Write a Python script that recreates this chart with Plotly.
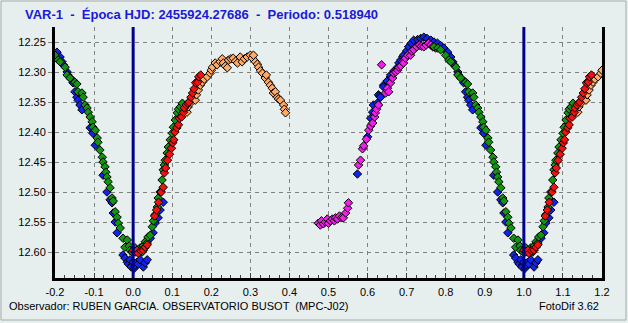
import plotly.graph_objects as go

title_text = "VAR-1  -  Época HJD: 2455924.27686  -  Periodo: 0.518940"
footer_left = "Observador: RUBEN GARCIA. OBSERVATORIO BUSOT  (MPC-J02)"
footer_right = "FotoDif 3.62"

x_ticks = [-0.2, -0.1, 0.0, 0.1, 0.2, 0.3, 0.4, 0.5, 0.6, 0.7, 0.8, 0.9, 1.0, 1.1, 1.2]
y_ticks = [12.25, 12.30, 12.35, 12.40, 12.45, 12.50, 12.55, 12.60]
epoch_lines = [0.0, 1.0]

# phases (0..1) and magnitudes per series
blue_phase = [0.574, 0.600, 0.608, 0.613, 0.615, 0.625, 0.628, 0.631, 0.633, 0.641, 0.641, 0.650, 0.659, 0.659,
              0.668, 0.677, 0.680, 0.685, 0.690, 0.692, 0.700, 0.705, 0.712, 0.718, 0.728, 0.736, 0.744, 0.752,
              0.762, 0.770, 0.779, 0.787, 0.795, 0.805, 0.813, 0.818, 0.821, 0.831, 0.833, 0.844, 0.846, 0.851,
              0.856, 0.859, 0.864, 0.869, 0.890, 0.897, 0.903, 0.923, 0.933, 0.941, 0.946, 0.949, 0.954, 0.959,
              0.974, 0.979, 0.985, 0.988, 0.992, 0.997, 0.995, 0.000, 0.003, 0.005, 0.010, 0.013, 0.018, 0.026,
              0.031, 0.036, 0.044, 0.051, 0.056, 0.064, 0.069, 0.077]
blue_mag = [12.470, 12.408, 12.377, 12.367, 12.355, 12.352, 12.338, 12.340, 12.342, 12.322, 12.325, 12.315, 12.308, 12.305,
            12.298, 12.292, 12.285, 12.280, 12.275, 12.272, 12.265, 12.258, 12.252, 12.247, 12.246, 12.244, 12.242, 12.244,
            12.247, 12.250, 12.252, 12.256, 12.260, 12.267, 12.275, 12.283, 12.288, 12.300, 12.305, 12.313, 12.318, 12.333,
            12.342, 12.347, 12.355, 12.363, 12.393, 12.402, 12.422, 12.472, 12.500, 12.513, 12.518, 12.535, 12.550, 12.568,
            12.605, 12.610, 12.617, 12.620, 12.613, 12.622, 12.625, 12.617, 12.627, 12.622, 12.617, 12.620, 12.613, 12.625,
            12.618, 12.613, 12.577, 12.568, 12.552, 12.543, 12.530, 12.517]

green_phase = [0.770, 0.780, 0.787, 0.800, 0.808, 0.813, 0.826, 0.831, 0.838, 0.851, 0.856, 0.859, 0.869, 0.872,
               0.877, 0.882, 0.885, 0.890, 0.895, 0.897, 0.903, 0.908, 0.910, 0.915, 0.921, 0.923, 0.928, 0.930,
               0.933, 0.936, 0.941, 0.946, 0.949, 0.954, 0.959, 0.962, 0.967, 0.974, 0.979, 0.985, 0.990, 0.992,
               0.998, 0.005, 0.012, 0.018, 0.023, 0.026, 0.031, 0.036, 0.038, 0.044, 0.049, 0.052, 0.056, 0.062,
               0.064, 0.069, 0.074, 0.077, 0.080, 0.082, 0.087, 0.090, 0.095, 0.100, 0.103, 0.108, 0.113, 0.116,
               0.121, 0.126]
green_mag = [12.258, 12.260, 12.263, 12.272, 12.280, 12.283, 12.292, 12.305, 12.310, 12.317, 12.320, 12.333, 12.335, 12.342,
             12.355, 12.360, 12.367, 12.375, 12.383, 12.392, 12.397, 12.410, 12.417, 12.430, 12.442, 12.450, 12.458, 12.467,
             12.475, 12.483, 12.493, 12.510, 12.515, 12.533, 12.542, 12.552, 12.560, 12.577, 12.592, 12.580, 12.590, 12.597,
             12.600, 12.593, 12.597, 12.593, 12.600, 12.590, 12.583, 12.585, 12.575, 12.572, 12.558, 12.548, 12.538, 12.525,
             12.510, 12.500, 12.480, 12.463, 12.455, 12.447, 12.435, 12.425, 12.413, 12.402, 12.392, 12.380, 12.368, 12.362,
             12.358, 12.352]

red_phase = [0.000, 0.005, 0.010, 0.013, 0.020, 0.026, 0.031, 0.036, 0.055, 0.060, 0.065, 0.072, 0.077, 0.080,
             0.083, 0.088, 0.093, 0.098, 0.101, 0.104, 0.107, 0.112, 0.116, 0.118, 0.124, 0.129, 0.131, 0.136,
             0.140, 0.143, 0.148, 0.152, 0.156, 0.160, 0.165, 0.168, 0.173]
red_mag = [12.597, 12.600, 12.597, 12.602, 12.598, 12.597, 12.592, 12.588, 12.540, 12.530, 12.517, 12.500, 12.492, 12.468,
           12.460, 12.447, 12.437, 12.427, 12.418, 12.413, 12.400, 12.393, 12.388, 12.377, 12.375, 12.367, 12.360, 12.355,
           12.352, 12.350, 12.342, 12.335, 12.328, 12.318, 12.317, 12.308, 12.305]

orange_phase = [0.131, 0.138, 0.141, 0.146, 0.150, 0.159, 0.162, 0.167, 0.172, 0.177, 0.182, 0.190, 0.197, 0.200,
                0.203, 0.210, 0.215, 0.223, 0.228, 0.231, 0.236, 0.241, 0.244, 0.250, 0.256, 0.262, 0.267, 0.274,
                0.279, 0.285, 0.292, 0.300, 0.305, 0.308, 0.313, 0.318, 0.321, 0.326, 0.331, 0.338, 0.341, 0.346,
                0.351, 0.356, 0.359, 0.364, 0.369, 0.372, 0.377, 0.385, 0.387, 0.390]
orange_mag = [12.362, 12.367, 12.358, 12.352, 12.345, 12.347, 12.338, 12.330, 12.322, 12.317, 12.312, 12.308, 12.302, 12.297,
              12.292, 12.285, 12.288, 12.283, 12.278, 12.285, 12.290, 12.293, 12.280, 12.278, 12.277, 12.282, 12.285, 12.275,
              12.283, 12.278, 12.275, 12.272, 12.277, 12.272, 12.283, 12.287, 12.292, 12.298, 12.302, 12.310, 12.305, 12.317,
              12.322, 12.327, 12.335, 12.333, 12.342, 12.345, 12.347, 12.355, 12.362, 12.368]

magenta_phase = [0.474, 0.479, 0.482, 0.487, 0.492, 0.497, 0.500, 0.505, 0.510, 0.515, 0.518, 0.523, 0.528, 0.533,
                 0.538, 0.544, 0.549, 0.551, 0.577, 0.582, 0.587, 0.590, 0.597, 0.603, 0.608, 0.613, 0.618, 0.620,
                 0.623, 0.628, 0.636, 0.646, 0.651, 0.654, 0.659, 0.664, 0.667, 0.672, 0.677, 0.680, 0.685, 0.690,
                 0.692, 0.697, 0.703, 0.710, 0.713, 0.718, 0.726, 0.733, 0.738, 0.744, 0.750, 0.756, 0.762, 0.767,
                 0.774]
magenta_mag = [12.552, 12.555, 12.548, 12.553, 12.550, 12.545, 12.552, 12.548, 12.545, 12.548, 12.543, 12.545, 12.540, 12.543,
               12.543, 12.535, 12.527, 12.518, 12.455, 12.447, 12.428, 12.423, 12.412, 12.397, 12.390, 12.385, 12.375, 12.368,
               12.362, 12.355, 12.288, 12.335, 12.327, 12.333, 12.318, 12.310, 12.302, 12.300, 12.297, 12.292, 12.290, 12.283,
               12.285, 12.277, 12.272, 12.272, 12.265, 12.263, 12.258, 12.255, 12.257, 12.258, 12.255, 12.252, 12.255, 12.258,
               12.260]

series = [
    ("blue", blue_phase, blue_mag, "#1024EE"),
    ("magenta", magenta_phase, magenta_mag, "#F020E8"),
    ("orange", orange_phase, orange_mag, "#FFAA66"),
    ("green", green_phase, green_mag, "#129612"),
    ("red", red_phase, red_mag, "#F21010"),
]

XMIN, XMAX = -0.2, 1.2
YTOP, YBOT = 12.225, 12.6433


def wrap(ph, mg):
    xs, ys = [], []
    for p, m in zip(ph, mg):
        for s in (-1, 0, 1):
            q = p + s
            if XMIN <= q <= XMAX:
                xs.append(q)
                ys.append(m)
    return xs, ys


fig = go.Figure()
for name, ph, mg, col in series:
    xs, ys = wrap(ph, mg)
    fig.add_trace(go.Scatter(
        x=xs, y=ys, mode="markers", name=name,
        marker=dict(symbol="diamond", size=6.5, color=col, line=dict(color="black", width=1)),
        showlegend=False, hoverinfo="skip", cliponaxis=True))

for e in epoch_lines:
    fig.add_shape(type="line", xref="x", yref="paper", x0=e, x1=e, y0=0, y1=1,
                  line=dict(color="#000088", width=3), layer="above")

# plot area: x 55..602, y 27..278 in a 628x323 page
L, R, T, B = 55, 26, 27, 45
W, H = 628 - L - R, 323 - T - B


def px(xp):
    return (xp - L) / W


def py(yp):
    return (323 - B - yp) / H


fig.add_shape(type="rect", xref="paper", yref="paper", x0=px(1), x1=px(626), y0=py(1), y1=py(320),
              line=dict(color="#A8A8A8", width=1), layer="below")

font_main = "Liberation Sans, Arial, sans-serif"
font_foot = "Liberation Sans Narrow, Liberation Sans, sans-serif"
fig.add_annotation(text=footer_left, xref="paper", yref="paper", x=px(7), y=py(306),
                   xanchor="left", yanchor="middle", showarrow=False,
                   font=dict(family=font_foot, size=11, color="black"))
fig.add_annotation(text=footer_right, xref="paper", yref="paper", x=px(601), y=py(306),
                   xanchor="right", yanchor="middle", showarrow=False,
                   font=dict(family=font_foot, size=11, color="black"))

bg = "#E7EFEE"
fig.update_layout(
    width=628, height=323, margin=dict(l=L, r=R, t=T, b=B, pad=0),
    paper_bgcolor=bg, plot_bgcolor=bg,
    title=dict(text="<b>" + title_text + "</b>", xref="container", yref="container",
               x=25 / 628, xanchor="left", y=1 - 14 / 323, yanchor="middle",
               font=dict(family=font_main, size=13, color="#1A1AD8")),
    xaxis=dict(range=[XMIN, XMAX], tickvals=x_ticks, ticktext=[f"{v:.1f}" for v in x_ticks],
               showgrid=True, gridcolor="#808080", gridwidth=1, griddash="4px,4px",
               zeroline=False, showline=True, linecolor="black", linewidth=3, mirror=False,
               ticks="inside", ticklen=5, tickcolor="#404040", ticklabelstandoff=2,
               minor=dict(ticks="inside", ticklen=3, dtick=0.025, tick0=0, tickcolor="#404040", showgrid=False),
               tickfont=dict(family=font_main, size=11, color="black"), fixedrange=True),
    yaxis=dict(range=[YBOT, YTOP], tickvals=y_ticks, ticktext=[f"{v:.2f}" for v in y_ticks],
               showgrid=True, gridcolor="#808080", gridwidth=1, griddash="4px,4px",
               zeroline=False, showline=True, linecolor="black", linewidth=3, mirror=True,
               ticks="outside", ticklen=4, tickcolor="#808080",
               tickfont=dict(family=font_main, size=11, color="black"), fixedrange=True),
)

fig.write_html("out.html")
